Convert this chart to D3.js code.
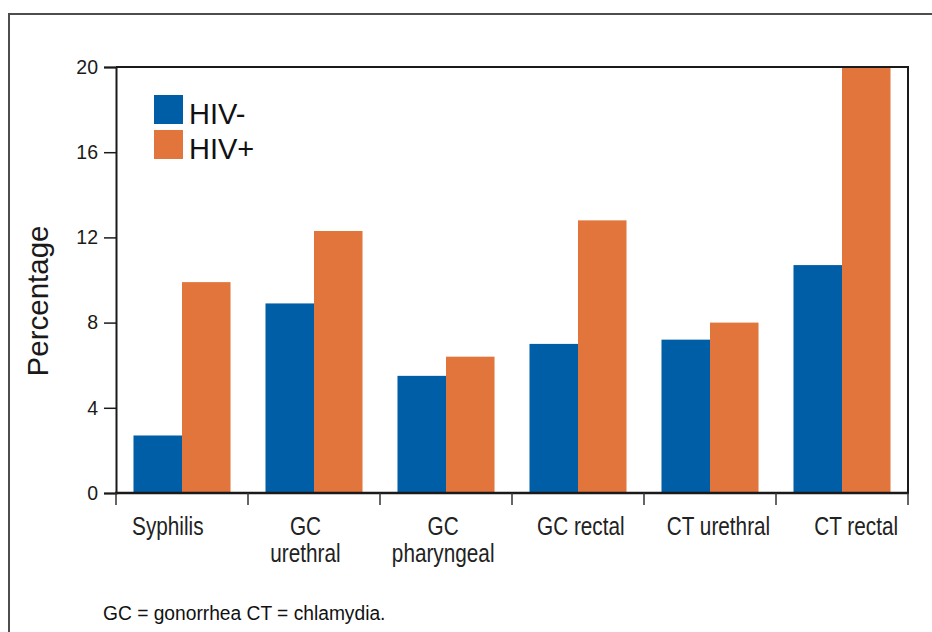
<!DOCTYPE html>
<html>
<head>
<meta charset="utf-8">
<script src="https://cdn.jsdelivr.net/npm/d3@7"></script>
<style>
  body { margin: 0; background: #fff; }
  svg { display: block; font-family: "Liberation Sans", Arial, sans-serif; }
</style>
</head>
<body>
<svg class="chart" width="932" height="632"></svg>
<script>
const categories = ["Syphilis", "GC urethral", "GC pharyngeal", "GC rectal", "CT urethral", "CT rectal"];
const xLabels = [["Syphilis"], ["GC", "urethral"], ["GC", "pharyngeal"], ["GC rectal"], ["CT urethral"], ["CT rectal"]];
const series = ["HIV-", "HIV+"];
const hivNeg = [2.7, 8.9, 5.5, 7.0, 7.2, 10.7];
const hivPos = [9.9, 12.3, 6.4, 12.8, 8.0, 20];
const yTicks = [0, 4, 8, 12, 16, 20];
const footnote = "GC = gonorrhea CT = chlamydia.";

const colScale = d3.scaleOrdinal()
                  .domain(series)
                  .range(['#005ea6', '#e1753b']);

function drawBars() {
  const svg = d3.select('svg.chart');
  const left = 116, right = 908, top = 67, bottom = 493;
  const squeeze = 0.83; // reference type is a condensed face

  // outer frame (top + left only)
  svg.append('path')
    .attr('d', `M9,632 V14 H932`)
    .attr('fill', 'none')
    .attr('stroke', '#4d4d4d')
    .attr('stroke-width', 2);

  const x0 = d3.scaleBand()
              .domain(categories)
              .range([left, right])
              .padding(0);

  // category labels sit on a slightly wider spread than the bars
  const xLab = d3.scaleBand()
              .domain(categories)
              .range([99, 925]);

  const x1 = d3.scaleBand()
              .domain(series)
              .range([x0.bandwidth() * 0.1325, x0.bandwidth() * 0.8675]);

  const y = d3.scaleLinear()
              .domain([0, 20])
              .range([bottom, top]);

  const rows = categories.map((c, i) => ({cat: c, vals: [hivNeg[i], hivPos[i]]}));

  const grp = svg.selectAll('g.grp')
    .data(rows)
    .enter()
    .append('g')
    .attr('class', 'grp')
    .attr('transform', d => `translate(${x0(d.cat)},0)`);

  grp.selectAll('rect')
    .data(d => d.vals.map((v, j) => ({key: series[j], value: v})))
    .enter()
    .append('rect')
    .attr('x', d => x1(d.key))
    .attr('width', x1.bandwidth())
    .attr('y', d => y(d.value))
    .attr('height', d => y(0) - y(d.value))
    .style('fill', d => colScale(d.key));

  // plot frame: top + right
  svg.append('path')
    .attr('d', `M${left},${top} H${right} V${bottom}`)
    .attr('fill', 'none')
    .attr('stroke', '#1a1a1a')
    .attr('stroke-width', 2);

  // y axis
  const yAxis = svg.append('g')
    .attr('transform', `translate(${left},0)`)
    .call(d3.axisLeft(y).tickValues(yTicks).tickSize(12).tickPadding(6).tickFormat(d3.format('d')));
  yAxis.select('.domain').attr('stroke', '#1a1a1a').attr('stroke-width', 2);
  yAxis.selectAll('.tick line').attr('stroke', '#1a1a1a').attr('stroke-width', 1.5);
  yAxis.selectAll('.tick text')
    .style('font-size', '19.5px')
    .style('fill', '#1a1a1a');

  // x axis line + boundary ticks
  svg.append('line')
    .attr('x1', left - 1).attr('x2', right + 1)
    .attr('y1', bottom).attr('y2', bottom)
    .attr('stroke', '#1a1a1a')
    .attr('stroke-width', 2.5);

  const bounds = categories.map(c => x0(c)).concat([right]);
  svg.selectAll('line.xtick')
    .data(bounds)
    .enter()
    .append('line')
    .attr('class', 'xtick')
    .attr('x1', d => d).attr('x2', d => d)
    .attr('y1', bottom).attr('y2', bottom + 12)
    .attr('stroke', '#333')
    .attr('stroke-width', 1.5);

  const xl = svg.selectAll('text.xlab')
    .data(xLabels)
    .enter()
    .append('text')
    .attr('class', 'xlab')
    .attr('transform', (d, i) => `translate(${xLab(categories[i]) + xLab.bandwidth() / 2},535) scale(${squeeze},1)`)
    .style('text-anchor', 'middle')
    .style('font-size', '25px')
    .style('fill', '#222');

  xl.selectAll('tspan')
    .data(d => d)
    .enter()
    .append('tspan')
    .text(d => d)
    .attr('x', 0)
    .attr('dy', (d, i) => i == 0 ? '0px' : '27px');

  // y title
  svg.append('text')
    .attr('transform', `translate(48,${(top + bottom) / 2 + 21}) rotate(-90)`)
    .style('text-anchor', 'middle')
    .style('font-size', '29.5px')
    .style('fill', '#1a1a1a')
    .text('Percentage');

  // legend
  const leg = svg.selectAll('g.leg')
    .data(series)
    .enter()
    .append('g')
    .attr('class', 'leg')
    .attr('transform', (d, i) => `translate(154,${95 + i * 35})`);
  leg.append('rect')
    .attr('width', 29).attr('height', 29)
    .style('fill', d => colScale(d));
  leg.append('text')
    .attr('x', 35).attr('y', 29)
    .style('font-size', '29px')
    .style('fill', '#111')
    .text(d => d);

  // footnote
  svg.append('text')
    .attr('transform', `translate(103,620) scale(0.915,1)`)
    .style('font-size', '21px')
    .style('fill', '#111')
    .text(footnote);
}

drawBars();
</script>
</body>
</html>
